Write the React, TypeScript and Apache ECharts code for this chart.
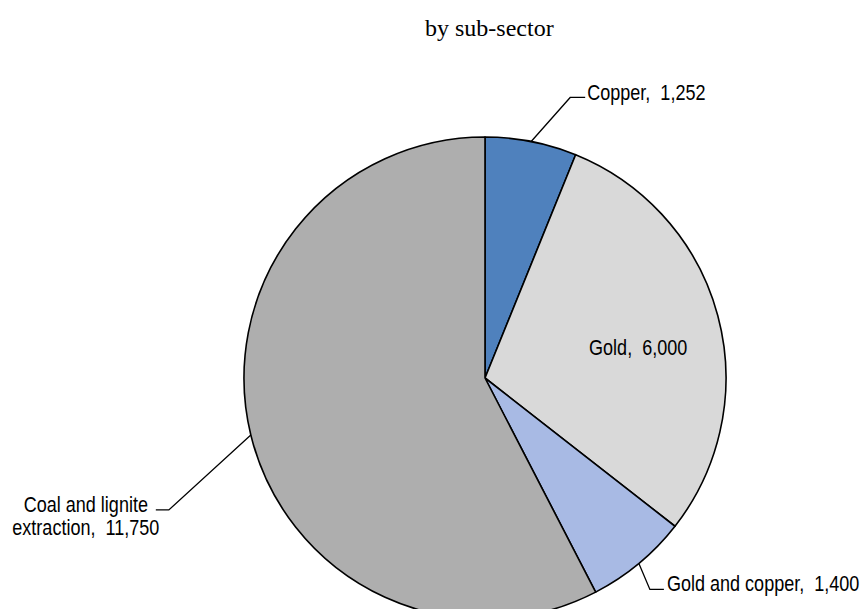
import React, { useEffect, useRef } from "react";
import * as echarts from "echarts";

// Mining output by sub-sector
const categories = ["Copper", "Gold", "Gold and copper", "Coal and lignite extraction"];
const labelNames = ["Copper", "Gold", "Gold and copper", "Coal and lignite\nextraction"];
const values = [1252, 6000, 1400, 11750];
const colors = ["#4F81BD", "#D9D9D9", "#A8BAE4", "#AEAEAE"];
const titleText = "by sub-sector";

const CENTER: [number, number] = [485, 378];
const RADIUS = 241;
const LABEL_FONT = "'Liberation Sans', Arial, sans-serif";
const LABEL_SIZE = 22;
const LABEL_SQUEEZE = 0.82; // condensed look of the labels

const total = values.reduce((a, b) => a + b, 0);

// point at the middle angle of slice i, at a fraction of the radius (clockwise from 12 o'clock)
function slicePoint(i: number, frac: number): [number, number] {
  const before = values.slice(0, i).reduce((a, b) => a + b, 0);
  const a = ((before + values[i] / 2) / total) * Math.PI * 2;
  return [CENTER[0] + RADIUS * frac * Math.sin(a), CENTER[1] - RADIUS * frac * Math.cos(a)];
}

const fmt = (v: number) => v.toLocaleString("en-US");
const labelText = (i: number) => `${labelNames[i]},  ${fmt(values[i])}`;

type Pt = [number, number];

function sliceLabel(i: number, x: number, y: number, align: string) {
  return {
    type: "text",
    x,
    y,
    scaleX: LABEL_SQUEEZE,
    z: 100,
    silent: true,
    style: {
      text: labelText(i),
      fill: "#000",
      fontFamily: LABEL_FONT,
      fontSize: LABEL_SIZE,
      lineHeight: 23,
      align,
      verticalAlign: "middle",
    },
  };
}

function leader(points: Pt[]) {
  return {
    type: "polyline",
    z: 100,
    silent: true,
    shape: { points },
    style: { stroke: "#000", lineWidth: 1.3, fill: null },
  };
}

function buildLabels() {
  const out: any[] = [];
  // Copper: up and to the right
  {
    const s = slicePoint(0, 1);
    const e: Pt = [s[0] + 39, s[1] - 44];
    const t: Pt = [e[0] + 15, e[1]];
    out.push(leader([s, e, t]));
    out.push(sliceLabel(0, t[0] + 2, t[1] - 5, "left"));
  }
  // Gold: inside its slice
  {
    const p = slicePoint(1, 0.645);
    out.push(sliceLabel(1, p[0] + 3, p[1] + 10, "center"));
  }
  // Gold and copper: down and to the right
  {
    const s = slicePoint(2, 1);
    const e: Pt = [s[0] + 11, s[1] + 26];
    const t: Pt = [e[0] + 14, e[1]];
    out.push(leader([s, e, t]));
    out.push(sliceLabel(2, t[0] + 3, t[1] - 6, "left"));
  }
  // Coal and lignite: down and to the left, two lines
  {
    const s = slicePoint(3, 1);
    const e: Pt = [s[0] - 82, s[1] + 75];
    const t: Pt = [e[0] - 13, e[1]];
    out.push(leader([s, e, t]));
    out.push(sliceLabel(3, t[0] - 70, t[1] + 6, "center"));
  }
  return out;
}

export default function App() {
  const ref = useRef<HTMLDivElement>(null);

  useEffect(() => {
    if (!ref.current) return;
    const chart = echarts.init(ref.current, undefined, { renderer: "svg" });

    const data = categories.map((name, i) => ({
      name,
      value: values[i],
      itemStyle: { color: colors[i] },
    }));

    chart.setOption({
      animation: false,
      backgroundColor: "#ffffff",
      title: {
        text: titleText,
        left: 425,
        top: 16,
        padding: 0,
        textStyle: {
          fontFamily: "'Liberation Serif', 'Times New Roman', serif",
          fontSize: 24,
          fontWeight: "normal",
          color: "#000",
        },
      },
      series: [
        {
          type: "pie",
          center: CENTER,
          radius: RADIUS,
          startAngle: 90,
          clockwise: true,
          data,
          itemStyle: { borderColor: "#000", borderWidth: 1.6 },
          emphasis: { disabled: true },
          label: { show: false },
          labelLine: { show: false },
        },
      ],
      graphic: buildLabels(),
    });

    return () => chart.dispose();
  }, []);

  return (
    <div
      ref={ref}
      style={{ position: "absolute", left: 0, top: 0, width: 864, height: 609 }}
    />
  );
}
